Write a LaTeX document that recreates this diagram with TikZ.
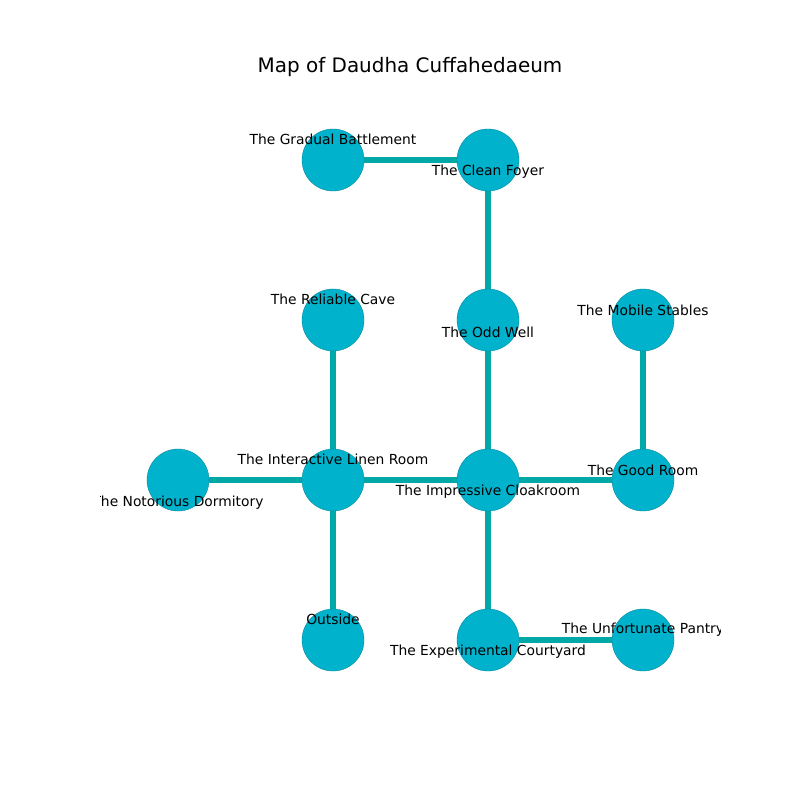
\documentclass[tikz,border=0pt]{standalone}
\usepackage{fontspec}
\setmainfont{DejaVu Sans}
\definecolor{roomfill}{RGB}{0,178,204}
\definecolor{passage}{RGB}{0,168,168}
\tikzset{
  room/.style={circle,fill=roomfill,draw=roomfill!75!black,line width=0.25pt,minimum size=0.62in,inner sep=0pt},
  passage/.style={draw=passage,line width=3.8pt},
  roomlabel/.style={inner sep=0pt,font=\fontsize{10}{12}\selectfont}
}

\begin{document}
\begin{tikzpicture}[x=0.01in,y=-0.01in]
  \useasboundingbox (0,0) rectangle (800,800);
  \node[font=\fontsize{14.4}{17}\selectfont] (title) at (410,67) {Map of Daudha Cuffahedaeum};
  % rooms
  \coordinate (GB) at (333,160);
  \coordinate (CF) at (488,160);
  \coordinate (RC) at (333,320);
  \coordinate (OW) at (488,320);
  \coordinate (MS) at (643,320);
  \coordinate (ND) at (178,480);
  \coordinate (IL) at (333,480);
  \coordinate (IC) at (488,480);
  \coordinate (GR) at (643,480);
  \coordinate (OU) at (333,640);
  \coordinate (EC) at (488,640);
  \coordinate (UP) at (643,640);
  % passages
  \draw[passage] (GB) -- (CF) -- (OW) -- (IC) -- (EC) -- (UP);
  \draw[passage] (RC) -- (IL) -- (OU);
  \draw[passage] (ND) -- (IL) -- (IC) -- (GR) -- (MS);
  \foreach \r in {GB,CF,RC,OW,MS,ND,IL,IC,GR,OU,EC,UP}
    \node[room] (n\r) at (\r) {};
  % labels
  \begin{scope}
    \clip (100,96) rectangle (720,704);
    \node[roomlabel] (lGB) at (333,139) {The Gradual Battlement};
    \node[roomlabel] (lCF) at (488,172) {The Clean Foyer};
    \node[roomlabel] (lRC) at (333,299) {The Reliable Cave};
    \node[roomlabel] (lOW) at (488,332) {The Odd Well};
    \node[roomlabel] (lMS) at (643,310) {The Mobile Stables};
    \node[roomlabel] (lIL) at (333,459) {The Interactive Linen Room};
    \node[roomlabel] (lND) at (178,503) {The Notorious Dormitory};
    \node[roomlabel] (lIC) at (488,492) {The Impressive Cloakroom};
    \node[roomlabel] (lGR) at (643,470) {The Good Room};
    \node[roomlabel] (lOU) at (333,619) {Outside};
    \node[roomlabel] (lEC) at (488,652) {The Experimental Courtyard};
    \node[roomlabel] (lUP) at (643,630) {The Unfortunate Pantry};
  \end{scope}
\end{tikzpicture}
\end{document}
